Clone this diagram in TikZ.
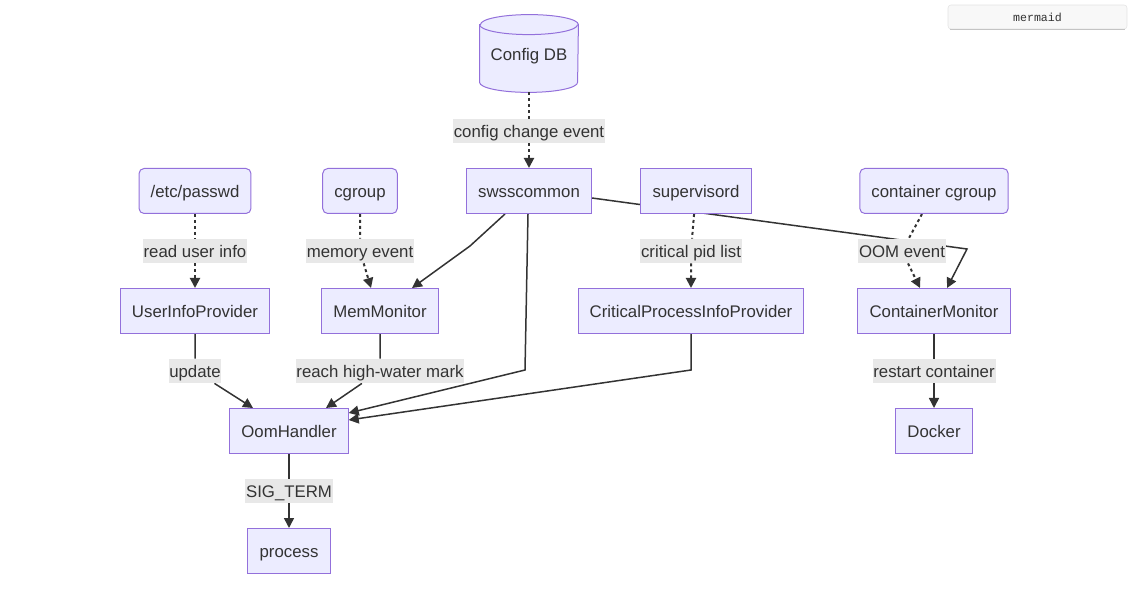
\documentclass[tikz,border=0pt]{standalone}
\usepackage{fontspec}
\setmainfont{Liberation Sans}
\newfontfamily\btnfont{Liberation Mono}
\usetikzlibrary{arrows.meta,backgrounds}
\definecolor{boxfill}{HTML}{ECECFF}
\definecolor{boxline}{HTML}{9370DB}
\definecolor{lblfill}{HTML}{E8E8E8}
\definecolor{ink}{HTML}{333333}
\definecolor{btnfill}{HTML}{F8F8F8}
\definecolor{btnline}{HTML}{C4C4C4}
\begin{document}
\begin{tikzpicture}[x=0.5pt, y=-0.5pt, font=\fontsize{8.4pt}{10pt}\selectfont, text=ink,
    box/.style={draw=boxline, fill=boxfill, line width=0.5pt, minimum height=22.5pt, inner xsep=5.8pt,
      text height=7.1pt, text depth=0.9pt},
    rbox/.style={box, rounded corners=2.5pt},
    lbl/.style={fill=lblfill, inner xsep=0.4pt, inner ysep=2pt, text height=7.1pt, text depth=0.9pt},
    flow/.style={draw=ink, line width=0.75pt, -{Triangle[length=5pt,width=5pt]}},
    flowdot/.style={flow, line width=1pt, dash pattern=on 1.5pt off 1.5pt}]
    \useasboundingbox (0,0) rectangle (1134,592);
    % mermaid button
    \node (btn) [fill=btnfill, draw=btnfill!92!black, line width=0.3pt, rounded corners=1.5pt,
      minimum width=89.5pt, minimum height=12pt,
      font=\btnfont\fontsize{5.8pt}{7pt}\selectfont] at (1037.5,17) {mermaid};
    \draw [btnline, line width=0.6pt] ([xshift=1pt]btn.south west) -- ([xshift=-1pt]btn.south east);
    % first row
    \node (db) [minimum width=49pt, minimum height=38.5pt, yshift=-1.5pt] at (529,53.5) {Config DB};
    \node (passwd) [rbox] at (195,191) {/etc/passwd};
    \node (cg) [rbox] at (360,191) {cgroup};
    \node (sws) [box] at (529,191) {swsscommon};
    \node (sup) [box] at (696,191) {supervisord};
    \node (ccg) [rbox] at (934,191) {container cgroup};
    % second row
    \node (uip) [box] at (195,311) {UserInfoProvider};
    \node (mem) [box] at (380,311) {MemMonitor};
    \node (crit) [box] at (691,311) {CriticalProcessInfoProvider};
    \node (cmon) [box] at (934,311) {ContainerMonitor};
    % third row
    \node (oom) [box] at (289,431) {OomHandler};
    \node (docker) [box] at (934,431) {Docker};
    \node (proc) [box] at (289,551) {process};
    % edge labels
    \node (lcfg) [lbl] at (529,131) {config change event};
    \node (lread) [lbl] at (195,251) {read user info};
    \node (lmem) [lbl] at (360,251) {memory event};
    \node (lcrit) [lbl] at (691,251) {critical pid list};
    \node (loom) [lbl] at (902,251) {OOM event};
    \node (lupd) [lbl] at (195,371) {update};
    \node (lhw) [lbl] at (380,371) {reach high-water mark};
    \node (lrst) [lbl] at (934,371) {restart container};
    \node (lsig) [lbl] at (289,491) {SIG\_TERM};
    % bends
    \coordinate (kneeA) at (470,246);
    \coordinate (kneeB) at (525,370);
    \coordinate (kneeC) at (691,370);
    \coordinate (kneeD) at (967,249);
    \begin{scope}[on background layer]
      % cylinder
      \draw [boxline, fill=boxfill, line width=0.5pt] ([yshift=-3.5pt]db.north west) -- ([yshift=6.5pt]db.south west)
        arc [start angle=180, end angle=360, x radius=24.5pt, y radius=5pt]
        -- ([yshift=-3.5pt]db.north east)
        arc [start angle=0, end angle=180, x radius=24.5pt, y radius=5pt] -- cycle;
      \draw [boxline, line width=0.5pt] ([yshift=-3.5pt]db.north west)
        arc [start angle=180, end angle=360, x radius=24.5pt, y radius=5pt];
      % dotted edges
      \draw [flowdot] ([yshift=1.5pt]db.south) -- (lcfg) -- (sws);
      \draw [flowdot] (passwd) -- (lread) -- (uip);
      \draw [flowdot] (cg) -- (lmem) -- ([xshift=-4.5pt]mem.north);
      \draw [flowdot] (sup) -- (lcrit) -- (crit);
      \draw [flowdot] ([xshift=-6pt]ccg.south) -- (loom) -- ([xshift=-7pt]cmon.north);
      % solid edges
      \draw [flow] ([xshift=-12pt]sws.south) -- (kneeA) -- ([xshift=16pt]mem.north);
      \draw [flow] ([xshift=-0.5pt]sws.south) -- (kneeB) -- ([yshift=9pt]oom.east);
      \draw [flow] (crit.south) -- (kneeC) -- ([yshift=5.5pt]oom.east);
      \draw [flow] ([yshift=-3.5pt]sws.east) -- (kneeD) -- ([xshift=6.5pt]cmon.north);
      \draw [flow] (uip) -- (lupd) -- ([xshift=-18pt]oom.north);
      \draw [flow] (mem) -- (lhw) -- ([xshift=18.5pt]oom.north);
      \draw [flow] (cmon) -- (lrst) -- (docker);
      \draw [flow] (oom) -- (lsig) -- (proc);
    \end{scope}
  \end{tikzpicture}
\end{document}
